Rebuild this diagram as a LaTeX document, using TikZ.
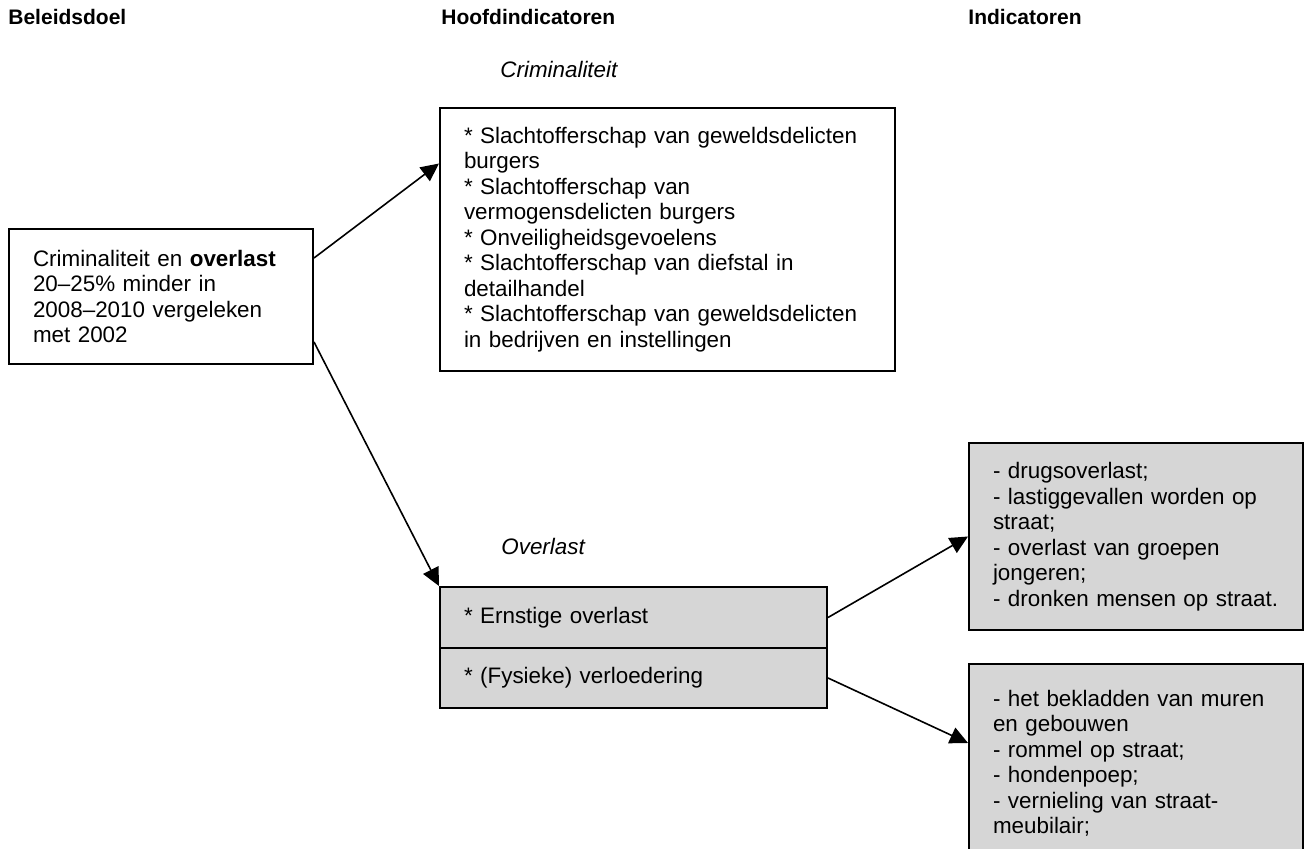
\documentclass[tikz,border=0pt]{standalone}
\usepackage{fontspec}
\setmainfont{Liberation Sans}
\usetikzlibrary{arrows.meta,calc,positioning}
\definecolor{vakgrijs}{RGB}{214,214,214}
\tikzset{
  doos/.style={draw, line width=1pt, inner xsep=12pt, inner ysep=0pt, align=left,
    anchor=north west, font=\fontsize{11.2}{12.75}\selectfont},
  grijs/.style={doos, fill=vakgrijs},
  kop/.style={anchor=base west, inner sep=0pt, font=\fontsize{10.5}{12}\selectfont\bfseries},
  thema/.style={anchor=base west, inner sep=0pt, font=\fontsize{11.2}{12.75}\selectfont\itshape},
  pijl/.style={line width=0.8pt, -{Triangle[length=9pt,width=8.5pt]}}
}

\begin{document}
\begin{tikzpicture}[x=0.5pt, y=-0.5pt]

                % Picture size.
                \useasboundingbox (0,0) rectangle (1305,849);
                \clip (0,0) rectangle (1305,849);

                % Column heads.
                \node[kop] (kopdoel) at (8,25) {Beleidsdoel};
                \node[kop] (kophoofd) at (441,25) {Hoofdindicatoren};
                \node[kop] (kopind) at (968,25) {Indicatoren};

                % Goal.
                \node[doos, text width=128pt, minimum height=67.5pt] (doel) at (8,228)
                    {Criminaliteit en \textbf{overlast}\\20--25\% minder in\\2008--2010 vergeleken\\met 2002};

                % Main indicators.
                \node[thema] (themacrim) at (500,78) {Criminaliteit};
                \node[doos, text width=203.5pt, minimum height=131.5pt] (crim) at (439,107)
                    {* Slachtofferschap van geweldsdelicten\\burgers\\{}* Slachtofferschap van\\vermogensdelicten burgers\\{}* Onveiligheidsgevoelens\\{}* Slachtofferschap van diefstal in\\detailhandel\\{}* Slachtofferschap van geweldsdelicten\\in bedrijven en instellingen};

                \node[thema] (themaover) at (501,554) {Overlast};
                \node[grijs, text width=169.5pt, minimum height=30.5pt] (ernstig) at (439,586)
                    {* Ernstige overlast};
                \node[grijs, text width=169.5pt, minimum height=30pt] (fysiek) at (439,647)
                    {* (Fysieke) verloedering};

                % Indicators.
                \node[grijs, text width=143pt, minimum height=93.5pt] (ind1) at (968,442)
                    {- drugsoverlast;\\- lastiggevallen worden op\\straat;\\- overlast van groepen\\jongeren;\\- dronken mensen op straat.};
                \node[grijs, text width=143pt, inner ysep=13pt, text depth=90pt] (ind2) at (968,663)
                    {- het bekladden van muren\\en gebouwen\\- rommel op straat;\\- hondenpoep;\\- vernieling van straat-\\meubilair;};

                % Arrows.
                \draw[pijl] ([yshift=19.25pt]doel.east) -- ([yshift=38pt]crim.west);
                \draw[pijl] ([yshift=-22.75pt]doel.east) -- (ernstig.north west);
                \draw[pijl] (ernstig.east) -- (ind1.west);
                \draw[pijl] (fysiek.east) -- ([yshift=-40pt]ind2.north west);
\end{tikzpicture}
\end{document}
